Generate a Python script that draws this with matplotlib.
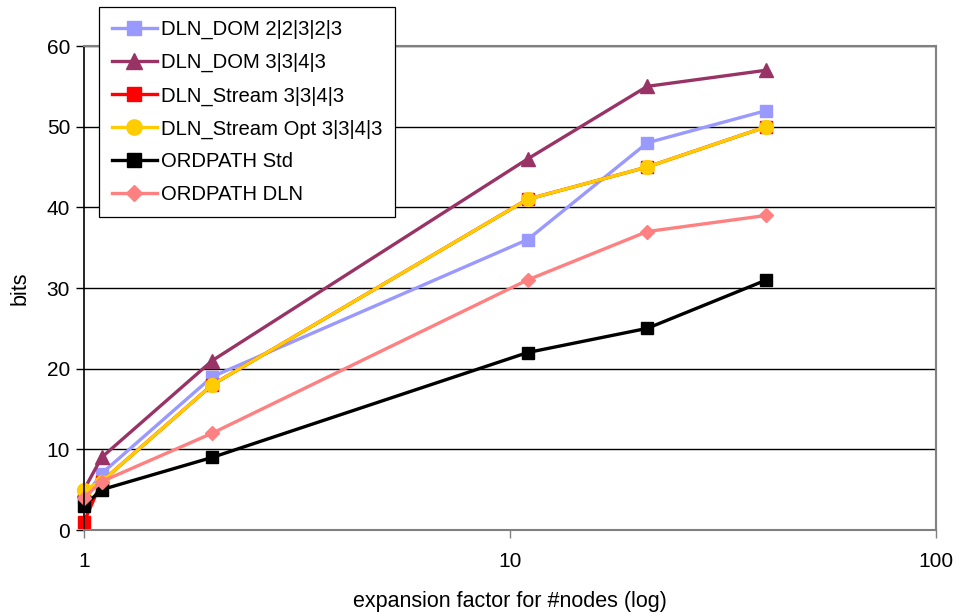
import matplotlib
matplotlib.use("Agg")
import matplotlib.pyplot as plt
from matplotlib.ticker import FixedLocator, NullLocator

x = [1, 1.1, 2, 11, 21, 40]
dom_22323 = [4, 7, 19, 36, 48, 52]
dom_3343 = [5, 9, 21, 46, 55, 57]
stream_3343 = [1, 6, 18, 41, 45, 50]
stream_opt_3343 = [5, 6, 18, 41, 45, 50]
ordpath_std = [3, 5, 9, 22, 25, 31]
ordpath_dln = [4, 6, 12, 31, 37, 39]

labels = ["DLN_DOM 2|2|3|2|3", "DLN_DOM 3|3|4|3", "DLN_Stream 3|3|4|3",
          "DLN_Stream Opt 3|3|4|3", "ORDPATH Std", "ORDPATH DLN"]

plt.rcParams['font.family'] = ['Liberation Sans', 'DejaVu Sans']

fig = plt.figure(figsize=(9.56, 6.13), dpi=100)
ax = fig.add_axes([84/956, 1 - 530/613, (936-84)/956, (530-46)/613])

lw = 2.4
ms = 9
common = dict(lw=lw, clip_on=False)
h1, = ax.plot(x, dom_22323, color='#9999FF', marker='s', ms=ms, label=labels[0], **common)
h2, = ax.plot(x, dom_3343, color='#993366', marker='^', ms=ms+1, label=labels[1], **common)
h3, = ax.plot(x, stream_3343, color='#FF0000', marker='s', ms=ms, label=labels[2], **common)
h4, = ax.plot(x, stream_opt_3343, color='#FFCC00', marker='o', ms=ms+1, label=labels[3], **common)
h5, = ax.plot(x, ordpath_std, color='#000000', marker='s', ms=ms, label=labels[4], **common)
h6, = ax.plot(x, ordpath_dln, color='#FF8080', marker='D', ms=ms-1.5, label=labels[5], **common)

ax.set_xscale('log')
ax.set_xlim(1, 100)
ax.set_ylim(0, 60)
ax.xaxis.set_major_locator(FixedLocator([1, 10, 100]))
ax.xaxis.set_minor_locator(NullLocator())
ax.set_xticklabels(['1', '10', '100'])
ax.set_yticks(range(0, 61, 10))
ax.yaxis.grid(True, color='black', lw=1.0)
ax.set_axisbelow(True)
for s in ['top', 'right', 'bottom']:
    ax.spines[s].set_color('#808080')
    ax.spines[s].set_linewidth(1.5)
ax.spines['left'].set_color('black')
ax.spines['left'].set_linewidth(1.2)
ax.tick_params(axis='both', direction='out', length=6, color='black', width=1.0,
               labelsize=15, pad=4)
ax.tick_params(axis='x', color='#808080', pad=10)
ax.set_xlabel('expansion factor for #nodes (log)', fontsize=15.5, labelpad=14)
ax.set_ylabel('bits', fontsize=15.5, labelpad=12)

leg = fig.legend([h1, h2, h3, h4, h5, h6], labels, loc='upper left',
                 bbox_to_anchor=(99/956, 1 - 7/613), fontsize=14.6, frameon=True,
                 fancybox=False, edgecolor='black', framealpha=1,
                 handlelength=2.2, labelspacing=0.68, borderpad=0.65,
                 handletextpad=0.2, borderaxespad=0, markerscale=1.1)
leg.get_frame().set_linewidth(0.9)

fig.savefig('out.png', dpi=100)
